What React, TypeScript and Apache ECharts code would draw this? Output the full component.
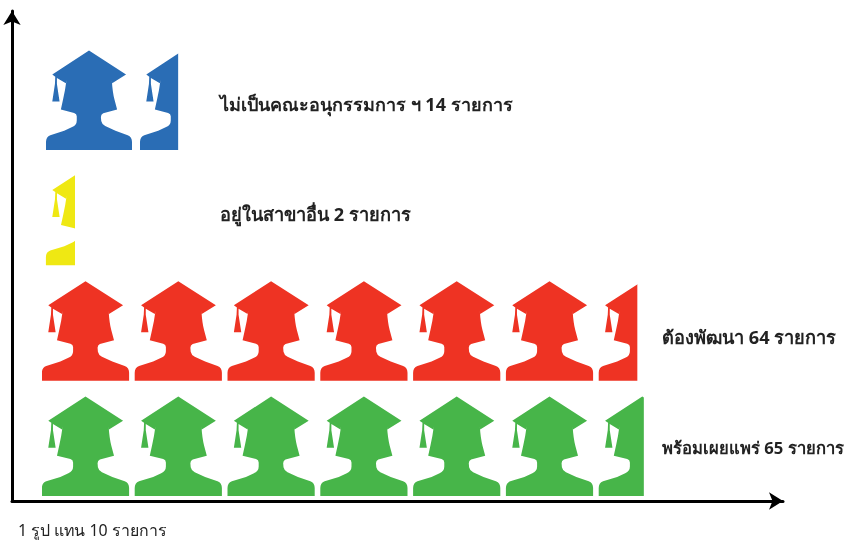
import React, { useEffect, useRef } from "react";
import * as echarts from "echarts";

// bottom row first
const categories = ["พร้อมเผยแพร่", "ต้องพัฒนา", "อยู่ในสาขาอื่น", "ไม่เป็นคณะอนุกรรมการ ฯ"];
const counts = [65, 64, 2, 14];
const drawnLengths = [64.8, 64.1, 3.56, 14.66];
const iconCounts = [7, 7, 1, 2];
const colors = ["#47b549", "#ee3323", "#efe813", "#2a6db5"];
const unitNote = "1 รูป แทน 10 รายการ";

const GRADUATE =
  "path://M135 6L247 78L205 104L204 94Q206 130 212 152L220 182L178 193Q171 196 171 204L172 216Q174 226 184 231L215 245L252 258Q265 263 265 278L265 302L5 302L5 278Q5 263 18 258L60 245L84 234Q98 228 98 214L98 202Q98 194 90 192L50 182L57 150Q63 125 67 94L65 104L38 88L38 106L46 158L24 158L32 106L33 84L24 78Z";

const PLOT_W = 743;
const AXIS_MAX = 80;
const PX_PER_UNIT = PLOT_W / AXIS_MAX;

export default function App() {
  const ref = useRef<HTMLDivElement>(null);
  useEffect(() => {
    const chart = echarts.init(ref.current!, undefined, { renderer: "svg" });
    const labelPos = [
      [662, 447],
      [662, 337],
      [220, 214],
      [220, 104],
    ];
    const labelSizes = [16.6, 18.2, 18.2, 18];
    const axisLine = {
      show: true,
      symbol: ["none", "arrow"],
      symbolSize: [13, 14],
      lineStyle: { color: "#000", width: 3 },
    };
    chart.setOption({
      animation: false,
      grid: [
        { left: 12, top: 11, width: 771, height: 490 },
        { left: 42, top: 42.5, width: PLOT_W, height: 461.5 },
      ],
      xAxis: [
        {
          type: "value", gridIndex: 0, min: 0, max: 1, splitLine: { show: false },
          axisLabel: { show: false }, axisTick: { show: false }, axisLine,
        },
        { type: "value", gridIndex: 1, min: 0, max: AXIS_MAX, show: false },
      ],
      yAxis: [
        {
          type: "value", gridIndex: 0, min: 0, max: 1, splitLine: { show: false },
          axisLabel: { show: false }, axisTick: { show: false }, axisLine,
        },
        { type: "category", gridIndex: 1, data: categories, show: false },
      ],
      series: [
        {
          type: "pictorialBar",
          xAxisIndex: 1,
          yAxisIndex: 1,
          symbol: GRADUATE,
          symbolClip: true,
          symbolPosition: "start",
          silent: true,
          data: drawnLengths.map((value, i) => {
            const w = i === 3 ? 86 : 87;
            const pitch = i === 3 ? 94 : 92.8;
            const n = iconCounts[i];
            return {
              value,
              itemStyle: { color: colors[i] },
              symbolSize: [w, 99.5],
              symbolRepeat: n,
              symbolBoundingData: (n * w + (n - 1) * (pitch - w)) / PX_PER_UNIT,
              symbolOffset: i >= 2 ? [4, 0] : [0, 0],
            };
          }),
        },
      ],
      graphic: [
        ...categories.map((name, i) => ({
          type: "text",
          x: labelPos[i][0],
          y: labelPos[i][1],
          style: {
            text: `${name} ${counts[i]} รายการ`,
            fontSize: labelSizes[i],
            fontWeight: "bold",
            fontFamily: "Noto Sans",
            fill: "#222",
            textVerticalAlign: "middle",
          },
        })),
        {
          type: "text",
          x: 18,
          y: 530,
          style: { text: unitNote, fontSize: 15.9, fontFamily: "Noto Sans", fill: "#222", textVerticalAlign: "middle" },
        },
      ],
    });
    return () => chart.dispose();
  }, []);
  return <div ref={ref} style={{ position: "fixed", left: 0, top: 0, width: 848, height: 540 }} />;
}
